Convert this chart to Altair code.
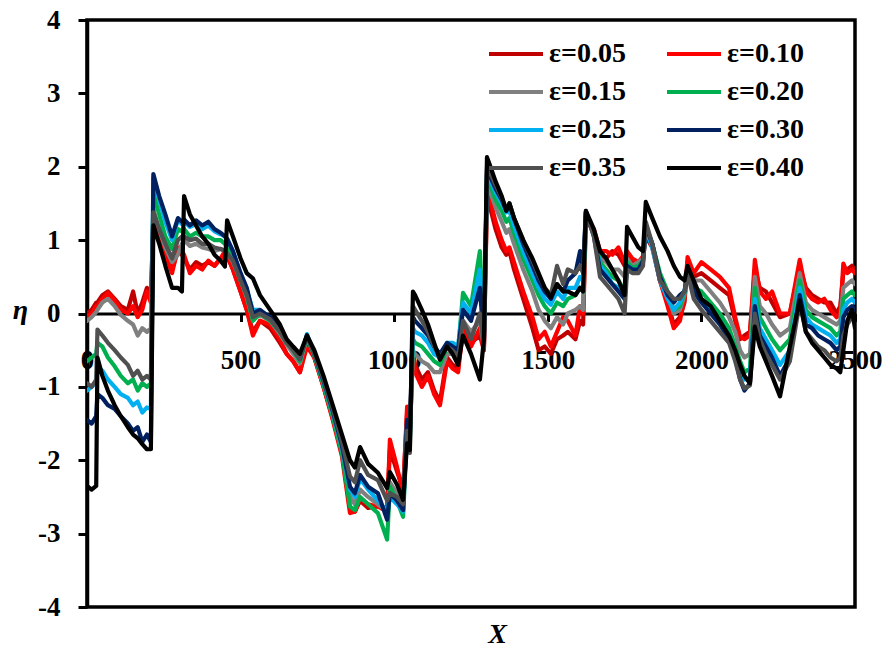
import altair as alt
import pandas as pd

# Sample positions along X (shared by every series)
x_pos = [0, 15, 30, 34, 50, 68, 90, 110, 133, 150,
         165, 180, 195, 208, 216, 235, 255, 277, 296, 309,
         316, 335, 355, 375, 395, 415, 435, 449, 456, 475,
         500, 520, 540, 563, 596, 628, 650, 671, 693, 716,
         740, 770, 800, 830, 856, 872, 889, 915, 947, 977,
         986, 1009, 1029, 1042, 1051, 1061, 1068, 1090, 1110, 1130,
         1149, 1172, 1190, 1208, 1224, 1250, 1279, 1292, 1302, 1309,
         1330, 1350, 1365, 1375, 1390, 1420, 1450, 1470, 1490, 1510,
         1530, 1550, 1565, 1590, 1605, 1615, 1624, 1650, 1670, 1690,
         1710, 1730, 1750, 1758, 1775, 1795, 1810, 1819, 1840, 1865,
         1890, 1910, 1930, 1945, 1955, 1975, 2000, 2030, 2060, 2090,
         2110, 2126, 2140, 2158, 2174, 2190, 2210, 2230, 2256, 2288,
         2320, 2340, 2360, 2380, 2400, 2420, 2440, 2452, 2462, 2475,
         2490, 2500]

eta_005 = [0.00, 0.05, 0.15, 0.15, 0.25, 0.30, 0.20, 0.10, 0.05, 0.30,
           0.00, 0.15, 0.35, 0.20, 1.30, 1.00, 0.80, 0.60, 0.85, 0.80,
           0.75, 0.60, 0.70, 0.65, 0.70, 0.65, 0.75, 0.80, 0.78, 0.60,
           0.30, 0.05, -0.25, -0.10, -0.20, -0.40, -0.55, -0.65, -0.80, -0.40,
           -0.60, -1.00, -1.43, -1.90, -2.65, -2.70, -2.55, -2.65, -2.63, -2.65,
           -1.85, -2.15, -2.40, -1.35, -1.60, -0.55, -0.70, -0.90, -0.80, -1.05,
           -1.20, -0.60, -0.70, -0.75, -0.15, -0.40, -0.30, -0.50, 1.55, 1.50,
           1.15, 0.90, 0.80, 0.85, 0.60, 0.20, -0.20, -0.50, -0.45, -0.55,
           -0.35, -0.30, -0.25, -0.35, -0.10, -0.15, 1.30, 1.10, 0.80, 0.75,
           0.85, 0.80, 0.65, 0.80, 0.70, 0.70, 0.75, 1.05, 0.90, 0.45,
           0.15, -0.15, -0.05, 0.15, 0.70, 0.50, 0.55, 0.45, 0.35, 0.25,
           -0.10, -0.35, -0.30, -0.25, 0.60, 0.35, 0.30, 0.15, -0.05, 0.00,
           0.65, 0.35, 0.25, 0.20, 0.15, 0.15, 0.00, 0.10, 0.55, 0.60,
           0.65, 0.60]

eta_010 = [-0.05, 0.00, 0.10, 0.10, 0.20, 0.28, 0.18, 0.05, 0.00, 0.10,
           -0.05, 0.05, 0.30, 0.15, 1.30, 1.05, 0.80, 0.55, 0.90, 0.85,
           0.80, 0.55, 0.65, 0.60, 0.72, 0.65, 0.75, 0.85, 0.80, 0.60,
           0.30, 0.05, -0.30, -0.10, -0.15, -0.35, -0.55, -0.65, -0.80, -0.45,
           -0.60, -1.00, -1.45, -1.95, -2.72, -2.70, -2.52, -2.60, -2.63, -2.70,
           -1.72, -2.09, -2.45, -1.27, -1.54, -0.50, -0.80, -1.00, -0.85, -1.10,
           -1.25, -0.65, -0.75, -0.80, -0.20, -0.45, -0.20, -0.50, 1.65, 1.60,
           1.25, 1.00, 0.85, 0.90, 0.70, 0.30, -0.05, -0.35, -0.25, -0.45,
           -0.25, -0.05, -0.10, -0.30, 0.10, 0.00, 1.32, 1.15, 0.85, 0.85,
           0.80, 0.90, 0.70, 0.85, 0.75, 0.70, 0.78, 1.10, 0.95, 0.45,
           0.10, -0.20, -0.10, 0.20, 0.77, 0.55, 0.70, 0.60, 0.50, 0.35,
           -0.05, -0.32, -0.35, -0.30, 0.73, 0.30, 0.20, 0.30, 0.00, 0.00,
           0.73, 0.30, 0.20, 0.15, 0.20, 0.05, -0.05, 0.00, 0.68, 0.55,
           0.60, 0.55]

eta_015 = [-0.10, -0.05, 0.02, 0.05, 0.15, 0.20, 0.10, -0.02, -0.10, -0.15,
           -0.30, -0.20, -0.25, -0.20, 1.42, 1.15, 0.90, 0.70, 0.80, 0.95,
           1.00, 0.92, 0.95, 0.90, 0.88, 0.85, 0.88, 0.85, 0.82, 0.70,
           0.45, 0.22, -0.08, -0.02, -0.10, -0.28, -0.42, -0.55, -0.68, -0.33,
           -0.57, -0.97, -1.40, -1.88, -2.50, -2.60, -2.40, -2.50, -2.60, -2.70,
           -2.30, -2.45, -2.60, -1.45, -1.65, -0.50, -0.55, -0.65, -0.70, -0.80,
           -0.80, -0.55, -0.55, -0.60, -0.10, -0.25, -0.10, -0.45, 1.75, 1.70,
           1.45, 1.25, 1.10, 1.15, 0.95, 0.60, 0.30, 0.05, -0.10, -0.20,
           -0.05, -0.15, 0.00, 0.05, 0.10, 0.05, 1.35, 1.10, 0.75, 0.70,
           0.60, 0.60, 0.50, 0.75, 0.65, 0.70, 0.75, 1.15, 0.95, 0.50,
           0.25, 0.00, 0.05, 0.25, 0.65, 0.45, 0.45, 0.30, 0.15, -0.05,
           -0.25, -0.50, -0.60, -0.55, 0.50, 0.10, 0.00, -0.15, -0.30, -0.20,
           0.55, 0.15, 0.05, 0.00, -0.05, -0.10, -0.15, -0.10, 0.35, 0.40,
           0.45, 0.40]

eta_020 = [-0.65, -0.60, -0.55, -0.40, -0.45, -0.60, -0.72, -0.85, -0.95, -0.90,
           -1.05, -0.95, -1.00, -0.95, 1.65, 1.35, 1.05, 0.88, 1.15, 1.12,
           1.15, 1.05, 1.10, 1.05, 1.05, 1.00, 1.00, 0.95, 0.92, 0.75,
           0.45, 0.25, -0.10, 0.00, -0.10, -0.25, -0.40, -0.50, -0.65, -0.32,
           -0.57, -0.97, -1.40, -1.90, -2.63, -2.68, -2.50, -2.60, -2.72, -3.08,
           -2.36, -2.55, -2.77, -1.60, -1.75, -0.35, -0.40, -0.45, -0.55, -0.65,
           -0.70, -0.45, -0.45, -0.50, 0.28, 0.10, 0.85, -0.30, 1.85, 1.80,
           1.55, 1.40, 1.25, 1.30, 1.10, 0.75, 0.45, 0.25, 0.10, 0.00,
           0.15, 0.10, 0.20, 0.25, 0.35, 0.30, 1.38, 1.10, 0.70, 0.60,
           0.50, 0.45, 0.30, 0.70, 0.62, 0.65, 0.72, 1.20, 0.95, 0.55,
           0.30, 0.05, 0.10, 0.28, 0.60, 0.35, 0.30, 0.15, 0.00, -0.20,
           -0.45, -0.65, -0.80, -0.75, 0.35, -0.05, -0.20, -0.35, -0.50, -0.35,
           0.45, 0.05, -0.05, -0.10, -0.15, -0.20, -0.30, -0.25, 0.20, 0.25,
           0.30, 0.25]

eta_025 = [-1.05, -1.00, -0.95, -0.72, -0.78, -0.90, -1.00, -1.10, -1.15, -1.25,
           -1.20, -1.35, -1.28, -1.30, 1.85, 1.55, 1.25, 1.00, 1.28, 1.22,
           1.25, 1.18, 1.22, 1.15, 1.20, 1.12, 1.08, 1.05, 1.02, 0.85,
           0.52, 0.32, 0.05, 0.05, -0.08, -0.22, -0.38, -0.48, -0.62, -0.28,
           -0.55, -0.93, -1.35, -1.83, -2.40, -2.50, -2.25, -2.40, -2.55, -2.70,
           -2.50, -2.60, -2.70, -1.50, -1.70, -0.20, -0.25, -0.30, -0.40, -0.55,
           -0.60, -0.40, -0.40, -0.45, 0.15, 0.00, 0.60, -0.35, 1.90, 1.85,
           1.65, 1.50, 1.38, 1.40, 1.20, 0.85, 0.55, 0.35, 0.20, 0.12,
           0.30, 0.20, 0.35, 0.35, 0.50, 0.45, 1.38, 1.10, 0.65, 0.55,
           0.40, 0.35, 0.20, 0.65, 0.60, 0.60, 0.70, 1.15, 0.90, 0.45,
           0.20, 0.05, 0.15, 0.30, 0.55, 0.30, 0.20, 0.05, -0.10, -0.30,
           -0.55, -0.78, -0.90, -0.88, 0.20, -0.20, -0.35, -0.50, -0.70, -0.50,
           0.35, -0.05, -0.15, -0.20, -0.25, -0.30, -0.40, -0.35, 0.05, 0.15,
           0.20, 0.15]

eta_030 = [-1.45, -1.50, -1.40, -1.10, -1.15, -1.25, -1.30, -1.40, -1.50, -1.60,
           -1.55, -1.75, -1.65, -1.75, 1.90, 1.60, 1.35, 1.05, 1.30, 1.25,
           1.28, 1.20, 1.27, 1.20, 1.25, 1.15, 1.10, 1.05, 1.02, 0.85,
           0.55, 0.35, 0.00, 0.05, -0.05, -0.22, -0.38, -0.48, -0.62, -0.30,
           -0.55, -0.92, -1.33, -1.80, -2.36, -2.45, -2.20, -2.36, -2.45, -2.81,
           -2.45, -2.55, -2.68, -1.45, -1.63, -0.05, -0.10, -0.20, -0.30, -0.45,
           -0.55, -0.40, -0.45, -0.50, 0.05, -0.10, 0.35, -0.40, 1.95, 1.90,
           1.70, 1.55, 1.40, 1.50, 1.30, 0.95, 0.65, 0.45, 0.30, 0.20,
           0.40, 0.30, 0.45, 0.55, 0.85, 0.60, 1.40, 1.05, 0.60, 0.50,
           0.40, 0.30, 0.20, 0.65, 0.60, 0.60, 0.72, 1.20, 0.95, 0.50,
           0.25, 0.15, 0.25, 0.30, 0.55, 0.30, 0.15, 0.00, -0.15, -0.35,
           -0.60, -0.90, -1.05, -0.95, 0.10, -0.30, -0.45, -0.60, -0.85, -0.60,
           0.25, -0.15, -0.20, -0.30, -0.35, -0.40, -0.50, -0.45, -0.05, 0.05,
           0.10, 0.05]

eta_035 = [-0.95, -1.00, -0.90, -0.22, -0.30, -0.40, -0.50, -0.60, -0.70, -0.85,
           -0.78, -0.90, -0.85, -0.90, 1.38, 1.15, 0.95, 0.75, 1.00, 1.05,
           1.05, 1.00, 1.02, 0.95, 0.95, 0.90, 0.88, 0.85, 0.82, 0.72,
           0.45, 0.25, -0.05, 0.00, -0.08, -0.25, -0.40, -0.50, -0.62, -0.30,
           -0.55, -0.90, -1.30, -1.75, -2.22, -2.30, -2.00, -2.20, -2.27, -2.55,
           -2.45, -2.50, -2.60, -1.60, -1.90, 0.10, 0.05, -0.10, -0.25, -0.45,
           -0.60, -0.45, -0.50, -0.60, -0.10, -0.35, 0.00, -0.45, 2.00, 1.95,
           1.75, 1.58, 1.42, 1.50, 1.30, 1.00, 0.72, 0.52, 0.35, 0.25,
           0.65, 0.40, 0.60, 0.55, 0.65, 0.55, 1.38, 1.05, 0.50, 0.40,
           0.30, 0.20, 0.00, 0.60, 0.55, 0.55, 0.65, 1.25, 0.95, 0.45,
           0.30, 0.20, 0.20, 0.30, 0.55, 0.20, 0.05, -0.10, -0.25, -0.40,
           -0.65, -0.90, -1.02, -0.98, 0.00, -0.35, -0.55, -0.70, -0.90, -0.65,
           0.15, -0.25, -0.35, -0.45, -0.50, -0.60, -0.65, -0.60, -0.30, -0.15,
           -0.05, -0.10]

eta_040 = [-2.35, -2.40, -2.35, -0.60, -0.85, -1.05, -1.25, -1.40, -1.55, -1.65,
           -1.70, -1.78, -1.85, -1.85, 1.20, 0.95, 0.65, 0.35, 0.35, 0.30,
           1.60, 1.35, 1.20, 1.05, 0.95, 0.80, 0.72, 0.64, 1.27, 1.05,
           0.75, 0.55, 0.48, 0.25, 0.05, -0.15, -0.35, -0.45, -0.55, -0.30,
           -0.50, -0.85, -1.25, -1.65, -2.00, -2.10, -1.82, -2.05, -2.17, -2.38,
           -2.16, -2.33, -2.54, -1.77, -1.86, 0.30, 0.25, 0.05, -0.15, -0.40,
           -0.63, -0.45, -0.55, -0.70, -0.30, -0.55, -0.90, -0.35, 2.13, 2.05,
           1.80, 1.60, 1.40, 1.50, 1.30, 1.00, 0.75, 0.55, 0.35, 0.22,
           0.40, 0.30, 0.30, 0.25, 0.35, 0.30, 1.40, 1.15, 0.85, 0.75,
           0.60, 0.45, 0.25, 1.18, 1.05, 0.90, 0.85, 1.52, 1.30, 1.05,
           0.85, 0.65, 0.50, 0.45, 0.65, 0.45, 0.20, 0.10, -0.10, -0.30,
           -0.50, -0.70, -0.85, -0.95, -0.18, -0.45, -0.65, -0.85, -1.13, -0.45,
           0.18, -0.25, -0.40, -0.50, -0.60, -0.70, -0.75, -0.80, -0.50, -0.10,
           0.05, -0.20]

series_labels = ["ε=0.05", "ε=0.10", "ε=0.15", "ε=0.20",
                 "ε=0.25", "ε=0.30", "ε=0.35", "ε=0.40"]
series_colors = ["#C00000", "#FF0000", "#808080", "#00B050",
                 "#00B0F0", "#002060", "#505050", "#000000"]
series_values = [eta_005, eta_010, eta_015, eta_020,
                 eta_025, eta_030, eta_035, eta_040]

x_ticks = [0, 500, 1000, 1500, 2000, 2500]
y_ticks = [-4, -3, -2, -1, 0, 1, 2, 3, 4]

records = []
for label, values in zip(series_labels, series_values):
    for xv, yv in zip(x_pos, values):
        records.append({"series": label, "x": xv, "eta": yv})
df = pd.DataFrame(records)

FONT = "Liberation Serif"
PLOT_W, PLOT_H = 768, 587

chart = alt.Chart(df).mark_line(
    strokeWidth=4.2, strokeJoin="round", strokeCap="round", clip=True
).encode(
    x=alt.X(
        "x:Q",
        scale=alt.Scale(domain=[0, 2500], nice=False, zero=False),
        axis=alt.Axis(
            values=x_ticks, format="d", offset=-PLOT_H / 2,
            grid=False, domainColor="black", domainWidth=3,
            tickColor="black", tickWidth=3, tickSize=8,
            labelFont=FONT, labelFontSize=27, labelFontWeight="bold",
            labelColor="black", labelPadding=26, labelFlush=False,
            labelOverlap=False,
            title="X", titleFont=FONT, titleFontSize=28,
            titleFontStyle="italic", titleFontWeight="bold",
            titleColor="black", titleX=410, titleY=321,
            titleAlign="center", titleBaseline="middle",
        ),
    ),
    y=alt.Y(
        "eta:Q",
        scale=alt.Scale(domain=[-4, 4], nice=False, zero=False),
        axis=alt.Axis(
            values=y_ticks, labelExpr="'' + datum.value",
            grid=False, domainColor="black", domainWidth=3.5,
            tickColor="black", tickWidth=3, tickSize=9,
            labelFont=FONT, labelFontSize=27, labelFontWeight="bold",
            labelColor="black", labelPadding=18,
            title="η", titleFont=FONT, titleFontSize=28,
            titleFontStyle="italic", titleFontWeight="bold",
            titleColor="black", titleAngle=0, titleX=-67, titleY=290,
            titleAlign="center", titleBaseline="middle",
        ),
    ),
    color=alt.Color(
        "series:N",
        scale=alt.Scale(domain=series_labels, range=series_colors),
        legend=alt.Legend(
            title=None, orient="none", legendX=415, legendY=20,
            direction="horizontal", columns=2, columnPadding=32,
            rowPadding=10,
            symbolType="M-2.5,0H2.5", symbolSize=467,
            symbolStrokeWidth=4, labelOffset=19,
            labelFont=FONT, labelFontSize=28, labelFontWeight="bold",
            labelColor="black",
        ),
    ),
).properties(
    width=PLOT_W,
    height=PLOT_H,
    padding={"left": 87, "top": 20, "right": 30, "bottom": 46},
    autosize="none",
).configure_view(
    stroke="black", strokeWidth=3.5
)

chart.save("out.html", embed_options={"renderer": "svg", "actions": False})
